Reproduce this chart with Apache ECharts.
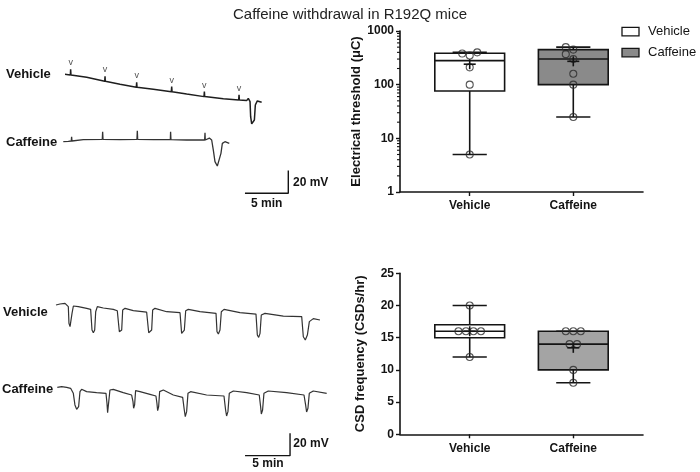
<!DOCTYPE html>
<html><head><meta charset="utf-8">
<script src="https://cdn.jsdelivr.net/npm/echarts@6/dist/echarts.min.js"></script>
<style>html,body{margin:0;padding:0;background:#fff}#c{width:700px;height:472px}</style>
</head><body><div id="c"></div>
<script>
// ================= DATA =================
const groups = ['Vehicle', 'Caffeine'];
// Electrical threshold (µC), individual animals
const thresholdVehicle = [5, 100, 210, 350, 380, 400];
const thresholdCaffeine = [25, 100, 160, 300, 370, 450, 500];
// CSD frequency (CSDs/hr), individual animals
const freqVehicle = [12, 16, 16, 16, 16, 20];
const freqCaffeine = [8, 10, 14, 14, 16, 16, 16];
// axis ticks
const thresholdRange = [1, 1000];
const thresholdMinorTicks = [2,3,4,5,6,7,8,9,20,30,40,50,60,70,80,90,200,300,400,500,600,700,800,900];
const freqTicks = [0, 5, 10, 15, 20, 25];
// example recordings: [time (min), potential (mV)]
const traceThreshVehicle = [[0,0],[0.38,-0.3],[0.62,-0.6],[0.65,4.4],[0.69,-0.6],[2.5,-2.6],[4.58,-6.2],[4.62,-1.8],[4.65,-6.2],[6.35,-8.8],[8.23,-11.5],[8.27,-7.1],[8.31,-11.5],[10.19,-13.2],[12.27,-15.3],[12.31,-10.9],[12.35,-15.3],[14.04,-17.4],[16.04,-19.7],[16.08,-15.3],[16.12,-19.7],[18.27,-21.5],[20.04,-22.6],[20.08,-18.2],[20.12,-22.6],[20.96,-23.2],[21.15,-21.2],[21.35,-24.1],[21.42,-37.4],[21.54,-43.8],[21.73,-44.7],[21.85,-40.3],[21.96,-27.1],[22.19,-23.5],[22.69,-24.7]];
const stimMarksVehicle = [[0.65,4.4],[4.62,-1.8],[8.27,-7.1],[12.31,-10.9],[16.08,-15.3],[20.08,-18.2]];
const traceThreshCaffeine = [[0,0],[0.58,0.3],[0.92,0.6],[0.96,4.4],[1.0,0.6],[2.31,1.8],[4.5,2.1],[4.54,8.8],[4.58,2.1],[6.54,1.8],[8.5,2.1],[8.54,9.7],[8.58,2.1],[10.38,1.8],[12.35,1.8],[12.38,8.8],[12.42,1.8],[14.23,1.5],[16.31,1.5],[16.35,7.9],[16.38,1.5],[16.85,3.2],[17.12,1.5],[17.31,-7.4],[17.5,-17.6],[17.77,-21.5],[18.0,-20.9],[18.19,-10.3],[18.35,-1.5],[18.65,0],[19.15,-1.5]];
const traceFreqVehicle = [[0,0],[0.44,0.9],[1.0,1.5],[1.19,0],[1.37,-1.5],[1.44,-16.4],[1.56,-19.4],[1.67,-19.4],[1.78,-7.5],[1.93,-0.9],[2.48,-1.5],[3.41,-3.0],[3.85,-3.9],[4.0,-22.4],[4.15,-24.8],[4.3,-22.4],[4.41,-6.0],[4.59,-1.5],[5.26,-2.7],[6.37,-3.9],[6.81,-5.1],[7.04,-23.9],[7.15,-25.4],[7.3,-22.4],[7.41,-4.5],[7.67,-3.0],[8.59,-5.1],[10.07,-6.3],[10.3,-24.8],[10.44,-26.0],[10.63,-22.4],[10.74,-4.5],[11.0,-3.0],[12.3,-6.0],[13.78,-6.9],[13.96,-25.4],[14.07,-26.0],[14.26,-22.4],[14.41,-5.1],[14.7,-3.9],[16.0,-6.0],[17.78,-7.5],[17.89,-23.9],[18.04,-26.0],[18.22,-22.4],[18.37,-6.0],[18.67,-3.9],[20.44,-6.9],[22.22,-8.1],[22.37,-26.9],[22.52,-29.0],[22.67,-25.4],[22.81,-9.0],[23.22,-7.5],[25.26,-9.9],[27.3,-10.4],[27.48,-28.4],[27.7,-31.3],[27.93,-26.9],[28.15,-14.9],[28.59,-12.2],[29.33,-13.4]];
const traceFreqCaffeine = [[0,0],[0.48,0.6],[1.04,0],[1.48,-0.9],[1.78,-5.4],[1.96,-15.8],[2.15,-19.7],[2.37,-17.3],[2.52,-3.9],[2.7,-1.8],[3.26,-3.9],[4.37,-4.8],[5.41,-5.4],[5.52,-14.3],[5.59,-22.7],[5.7,-21.8],[5.85,-2.4],[6.22,-1.8],[7.33,-4.8],[8.26,-6.9],[8.41,-12.8],[8.48,-18.8],[8.59,-15.8],[8.7,-3.0],[9.19,-3.9],[10.3,-6.3],[10.96,-7.8],[11.07,-14.3],[11.15,-20.9],[11.26,-17.3],[11.37,-3.9],[11.78,-2.4],[12.89,-6.9],[13.93,-9.0],[14.11,-20.3],[14.22,-26.3],[14.37,-21.8],[14.52,-5.4],[14.81,-3.9],[16.59,-6.9],[18.52,-7.8],[18.7,-20.3],[18.81,-25.7],[18.96,-21.8],[19.11,-5.4],[19.56,-3.3],[21.04,-4.8],[22.44,-6.9],[22.59,-17.3],[22.67,-23.9],[22.81,-20.3],[22.96,-5.4],[23.44,-3.3],[25.48,-4.8],[27.41,-6.9],[27.59,-15.8],[27.7,-22.1],[27.85,-18.8],[28.0,-5.4],[28.44,-3.3],[29.93,-5.4]];
const scaleBarMin = 5, scaleBarMv = 20;

// ================= HELPERS =================
const FONT = 'Liberation Sans, Arial, Helvetica, sans-serif';
const INK = '#141414';
function pct(s, p) {
  const h = (s.length + 1) * p, lo = Math.floor(h);
  if (lo < 1) return s[0];
  if (lo >= s.length) return s[s.length - 1];
  return s[lo - 1] + (h - lo) * (s[lo] - s[lo - 1]);
}
function boxStats(vals, cat) {
  const s = vals.slice().sort((a, b) => a - b);
  const mean = s.reduce((a, b) => a + b, 0) / s.length;
  return [cat, s[0], pct(s, 0.25), pct(s, 0.5), pct(s, 0.75), s[s.length - 1], mean];
}
const X_MIN = 0.327, X_MAX = 2.673, BOX_HALF = 0.337, CAP_HALF = 0.165;

function boxSeries(gi, stats, fills) {
  return {
    type: 'custom', xAxisIndex: gi, yAxisIndex: gi, z: 2, silent: true, clip: false,
    data: stats.map(s => s.slice(0, 6)),
    encode: { x: 0, y: [1, 2, 3, 4, 5] },
    renderItem: function (params, api) {
      const x = api.value(0);
      const pMin = api.coord([x, api.value(1)]), pQ1 = api.coord([x, api.value(2)]);
      const pMed = api.coord([x, api.value(3)]), pQ3 = api.coord([x, api.value(4)]);
      const pMax = api.coord([x, api.value(5)]);
      const cx = pMed[0];
      const hw = api.coord([x + BOX_HALF, api.value(3)])[0] - cx;
      const cw = api.coord([x + CAP_HALF, api.value(3)])[0] - cx;
      const ls = { stroke: INK, lineWidth: 1.6 };
      return { type: 'group', children: [
        { type: 'line', shape: { x1: cx, y1: pQ3[1], x2: cx, y2: pMax[1] }, style: ls },
        { type: 'line', shape: { x1: cx, y1: pQ1[1], x2: cx, y2: pMin[1] }, style: ls },
        { type: 'line', shape: { x1: cx - cw, y1: pMax[1], x2: cx + cw, y2: pMax[1] }, style: ls },
        { type: 'line', shape: { x1: cx - cw, y1: pMin[1], x2: cx + cw, y2: pMin[1] }, style: ls },
        { type: 'rect', shape: { x: cx - hw, y: pQ3[1], width: 2 * hw, height: pQ1[1] - pQ3[1] },
          style: { fill: fills[params.dataIndex], stroke: INK, lineWidth: 1.6 } },
        { type: 'line', shape: { x1: cx - hw, y1: pMed[1], x2: cx + hw, y2: pMed[1] }, style: ls }
      ]};
    }
  };
}
function meanSeries(gi, stats) {
  return {
    type: 'custom', xAxisIndex: gi, yAxisIndex: gi, z: 5, silent: true, clip: false,
    data: stats.map(s => [s[0], s[6]]),
    encode: { x: 0, y: 1 },
    renderItem: function (params, api) {
      const p = api.coord([api.value(0), api.value(1)]);
      const ls = { stroke: INK, lineWidth: 1.6 };
      return { type: 'group', children: [
        { type: 'line', shape: { x1: p[0] - 6, y1: p[1], x2: p[0] + 6, y2: p[1] }, style: ls },
        { type: 'line', shape: { x1: p[0], y1: p[1] - 5, x2: p[0], y2: p[1] + 5 }, style: ls }
      ]};
    }
  };
}
function pointSeries(id, gi, data) {
  return { id: id, type: 'scatter', xAxisIndex: gi, yAxisIndex: gi, z: 4, silent: true,
    symbol: 'circle', symbolSize: 7, data: data,
    itemStyle: { color: 'rgba(0,0,0,0)', borderColor: '#2a2a2a', borderWidth: 1.1 } };
}
function catXAxis(gi) {
  return { type: 'value', gridIndex: gi, min: X_MIN, max: X_MAX,
    axisLine: { show: true, onZero: false, lineStyle: { color: INK, width: 1.6 } },
    axisTick: { show: true, customValues: [1, 2], length: 4, lineStyle: { color: INK, width: 1.4 } },
    axisLabel: { customValues: [1, 2], formatter: v => groups[Math.round(v) - 1], margin: 8,
      fontFamily: FONT, fontSize: 12, fontWeight: 'bold', color: INK },
    splitLine: { show: false } };
}
function traceGrid(x0, y0, kx, ky, tMax, vMin, vMax) {
  return { left: x0, top: y0 - vMax * ky, width: tMax * kx, height: (vMax - vMin) * ky };
}
function hiddenAxis(gi, min, max) {
  return { type: 'value', gridIndex: gi, min: min, max: max, show: false, splitLine: { show: false } };
}
function traceSeries(gi, data, color, width) {
  return { type: 'line', xAxisIndex: gi, yAxisIndex: gi, data: data, symbol: 'none', silent: true,
    lineStyle: { color: color, width: width }, z: 3 };
}
function textEl(txt, x, y, size, weight, align) {
  return { type: 'text', x: x, y: y, silent: true,
    style: { text: txt, fontFamily: FONT, fontSize: size, fontWeight: weight, fill: INK,
      align: align || 'left', verticalAlign: 'middle' } };
}

// ================= CHART =================
const statsThresh = [boxStats(thresholdVehicle, 1), boxStats(thresholdCaffeine, 2)];
const statsFreq = [boxStats(freqVehicle, 1), boxStats(freqCaffeine, 2)];

const KX1 = 8.667, KY1 = 1.133, KX2 = 9.0, KY2 = 1.117;
const barTop = [25.96, -45.5];   // anchor of the scale bar corner (min, mV) in panel 3 axes
const barBot = [25.86, -61.2];   // anchor in panel 5 axes

const chart = echarts.init(document.getElementById('c'), null, { renderer: 'canvas' });

function buildOption(pts) {
  return {
    animation: false,
    backgroundColor: '#ffffff',
    title: { text: 'Caffeine withdrawal in R192Q mice', left: 'center', top: 2,
      textStyle: { fontFamily: FONT, fontSize: 15, fontWeight: 'normal', color: '#222' } },
    grid: [
      { left: 400, top: 31, width: 243, height: 161 },
      { left: 400, top: 273.3, width: 243, height: 161 },
      traceGrid(65, 74.3, KX1, KY1, 32, -60, 15),
      traceGrid(63.3, 141.7, KX1, KY1, 32, -60, 15),
      traceGrid(56, 305, KX2, KY2, 32, -40, 10),
      traceGrid(57.3, 387.3, KX2, KY2, 32, -70, 10)
    ],
    xAxis: [catXAxis(0), catXAxis(1), hiddenAxis(2, 0, 32), hiddenAxis(3, 0, 32), hiddenAxis(4, 0, 32), hiddenAxis(5, 0, 32)],
    yAxis: [
      { type: 'log', logBase: 10, gridIndex: 0, min: thresholdRange[0], max: thresholdRange[1],
        axisLine: { show: true, lineStyle: { color: INK, width: 1.6 } },
        axisTick: { show: true, length: 4, lineStyle: { color: INK, width: 1.4 } },
        axisLabel: { fontFamily: FONT, fontSize: 12, fontWeight: 'bold', color: INK, margin: 6,
          formatter: v => String(Math.round(v)) },
        splitLine: { show: false },
        name: 'Electrical threshold (μC)', nameLocation: 'middle', nameGap: 30, nameRotate: 90,
        nameTextStyle: { fontFamily: FONT, fontSize: 13, fontWeight: 'bold', color: INK } },
      { type: 'value', gridIndex: 1, min: freqTicks[0], max: freqTicks[freqTicks.length - 1],
        interval: freqTicks[1] - freqTicks[0],
        axisLine: { show: true, lineStyle: { color: INK, width: 1.6 } },
        axisTick: { show: true, length: 4, lineStyle: { color: INK, width: 1.4 } },
        axisLabel: { fontFamily: FONT, fontSize: 12, fontWeight: 'bold', color: INK, margin: 6 },
        splitLine: { show: false },
        name: 'CSD frequency (CSDs/hr)', nameLocation: 'middle', nameGap: 33, nameRotate: 90,
        nameTextStyle: { fontFamily: FONT, fontSize: 13, fontWeight: 'bold', color: INK } },
      hiddenAxis(2, -60, 15), hiddenAxis(3, -60, 15), hiddenAxis(4, -40, 10), hiddenAxis(5, -70, 10)
    ],
    series: [
      // minor log ticks
      { type: 'custom', xAxisIndex: 0, yAxisIndex: 0, silent: true, clip: false, z: 10,
        data: thresholdMinorTicks.map(v => [1, v]), encode: { x: 0, y: 1 },
        renderItem: (params, api) => {
          const p = api.coord([X_MIN, api.value(1)]);
          return { type: 'line', shape: { x1: p[0] - 3, y1: p[1], x2: p[0], y2: p[1] },
            style: { stroke: INK, lineWidth: 1.1 } };
        } },
      boxSeries(0, statsThresh, ['#ffffff', '#8a8a8a']),
      boxSeries(1, statsFreq, ['#ffffff', '#a4a4a4']),
      pointSeries('p0', 0, pts[0]), pointSeries('p1', 0, pts[1]),
      pointSeries('p2', 1, pts[2]), pointSeries('p3', 1, pts[3]),
      meanSeries(0, statsThresh), meanSeries(1, statsFreq),
      // traces
      traceSeries(2, traceThreshVehicle, '#1e1e1e', 1.5),
      traceSeries(3, traceThreshCaffeine, '#333', 1.3),
      traceSeries(4, traceFreqVehicle, '#333', 1.2),
      traceSeries(5, traceFreqCaffeine, '#333', 1.2),
      { type: 'scatter', xAxisIndex: 2, yAxisIndex: 2, data: stimMarksVehicle, symbolSize: 0, silent: true,
        label: { show: true, formatter: 'v', position: 'top', distance: 2, fontFamily: FONT, fontSize: 9, color: '#222' } },
      // scale bars
      { type: 'line', xAxisIndex: 3, yAxisIndex: 3, symbol: 'none', silent: true,
        data: [[barTop[0] - scaleBarMin, barTop[1]], barTop, [barTop[0], barTop[1] + scaleBarMv]],
        lineStyle: { color: INK, width: 1.4 } },
      { type: 'line', xAxisIndex: 5, yAxisIndex: 5, symbol: 'none', silent: true,
        data: [[barBot[0] - scaleBarMin, barBot[1]], barBot, [barBot[0], barBot[1] + scaleBarMv]],
        lineStyle: { color: INK, width: 1.4 } }
    ],
    graphic: [
      textEl('Vehicle', 6, 74.5, 13, 'bold'),
      textEl('Caffeine', 6, 142.7, 13, 'bold'),
      textEl('Vehicle', 3, 312.7, 13, 'bold'),
      textEl('Caffeine', 2, 389.3, 13, 'bold'),
      textEl(scaleBarMv + ' mV', 293, 182.7, 12, 'bold'),
      textEl(scaleBarMin + ' min', 266.7, 204, 12, 'bold', 'center'),
      textEl(scaleBarMv + ' mV', 293.3, 444, 12, 'bold'),
      textEl(scaleBarMin + ' min', 268, 464, 12, 'bold', 'center'),
      { type: 'rect', shape: { x: 622, y: 27.3, width: 17, height: 8.5 }, silent: true,
        style: { fill: '#ffffff', stroke: INK, lineWidth: 1.3 } },
      { type: 'rect', shape: { x: 622, y: 48.3, width: 17, height: 8.5 }, silent: true,
        style: { fill: '#8a8a8a', stroke: INK, lineWidth: 1.3 } },
      textEl(groups[0], 648, 31, 13, 'normal'),
      textEl(groups[1], 648, 52, 13, 'normal')
    ]
  };
}

const zeroPts = [thresholdVehicle.map(v => [1, v]), thresholdCaffeine.map(v => [2, v]),
                 freqVehicle.map(v => [1, v]), freqCaffeine.map(v => [2, v])];
chart.setOption(buildOption(zeroPts));

// beeswarm-style horizontal spreading of overlapping points (in pixel space via the axes)
function swarm(values, gi, cat) {
  const S = 7.5, D = 7;
  const s = values.slice().sort((a, b) => a - b);
  const unit = chart.convertToPixel({ gridIndex: gi }, [cat + 1, s[0]])[0] - chart.convertToPixel({ gridIndex: gi }, [cat, s[0]])[0];
  const placed = [], out = [];
  let i = 0;
  while (i < s.length) {
    let j = i; while (j < s.length && s[j] === s[i]) j++;
    const n = j - i, py = chart.convertToPixel({ gridIndex: gi }, [cat, s[i]])[1];
    if (n > 1) {
      for (let k = 0; k < n; k++) { const dx = (k - (n - 1) / 2) * S; placed.push([dx, py]); out.push([cat + dx / unit, s[i]]); }
    } else {
      const cands = [0, -S, S, -2 * S, 2 * S, -3 * S, 3 * S];
      for (const dx of cands) {
        if (placed.every(p => Math.hypot(p[0] - dx, p[1] - py) >= D)) { placed.push([dx, py]); out.push([cat + dx / unit, s[i]]); break; }
      }
    }
    i = j;
  }
  return out;
}
const pts = [swarm(thresholdVehicle, 0, 1), swarm(thresholdCaffeine, 0, 2), swarm(freqVehicle, 1, 1), swarm(freqCaffeine, 1, 2)];
chart.setOption(buildOption(pts));
</script>
</body></html>
